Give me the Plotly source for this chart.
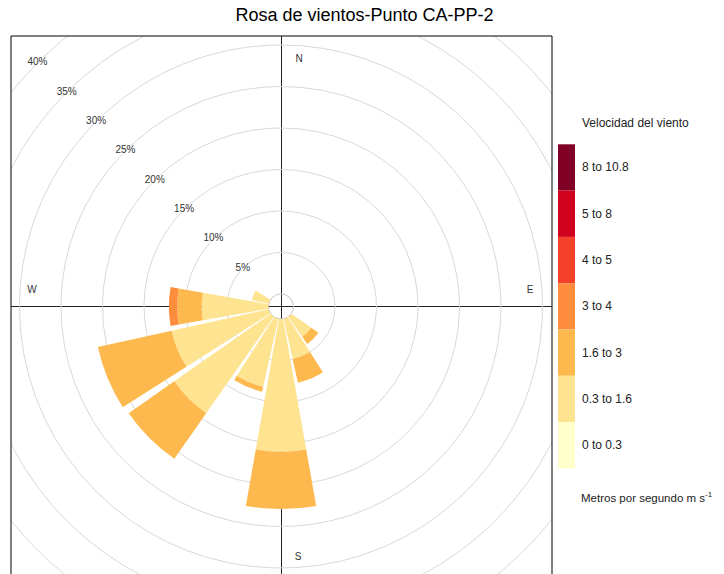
import numpy as np
import plotly.graph_objects as go

# ---------------- data ----------------
directions = [0, 22.5, 45, 67.5, 90, 112.5, 135, 157.5, 180, 202.5, 225, 247.5, 270, 292.5, 315, 337.5]
speed_bins = ["0 to 0.3", "0.3 to 1.6", "1.6 to 3", "3 to 4", "4 to 5", "5 to 8", "8 to 10.8"]
bin_colors = ["#FFFFCC", "#FEE391", "#FEB94E", "#FD8D3C", "#F4422A", "#D0021E", "#800026"]

freq_0_0p3   = [0, 0, 0, 0, 0, 0, 0, 0, 0, 0, 0, 0, 0, 0, 0, 0]
freq_0p3_1p6 = [0, 0, 0, 0, 0, 0, 2.95, 5.0, 16.0, 8.4, 14.2, 12.0, 8.05, 2.1, 0, 0]
freq_1p6_3   = [0, 0, 0, 0, 0, 0, 1.05, 2.9, 6.9, 0.6, 6.7, 9.1, 2.95, 0, 0, 0]
freq_3_4     = [0, 0, 0, 0, 0, 0, 0, 0, 0, 0, 0, 0, 1.0, 0, 0, 0]
freq_4_5     = [0, 0, 0, 0, 0, 0, 0, 0, 0, 0, 0, 0, 0, 0, 0, 0]
freq_5_8     = [0, 0, 0, 0, 0, 0, 0, 0, 0, 0, 0, 0, 0, 0, 0, 0]
freq_8_10p8  = [0, 0, 0, 0, 0, 0, 0, 0, 0, 0, 0, 0, 0, 0, 0, 0]
series = [freq_0_0p3, freq_0p3_1p6, freq_1p6_3, freq_3_4, freq_4_5, freq_5_8, freq_8_10p8]

ring_pcts = [5, 10, 15, 20, 25, 30, 35, 40]
ring_labels = ["5%", "10%", "15%", "20%", "25%", "30%", "35%", "40%"]
compass_labels = ["N", "E", "S", "W"]

title_text = "Rosa de vientos-Punto CA-PP-2"
legend_title = "Velocidad del viento"
legend_footer = "Metros por segundo m s<sup>-1</sup>"

# ---------------- geometry (figure pixels; page body adds an 8px offset) ----------------
OFF = 8
FIG_W, FIG_H = 724 - OFF, 574 - OFF
L, R_EDGE, T, B = 11 - OFF, 552 - OFF, 36 - OFF, 574 - OFF
W, H = R_EDGE - L, B - T
CX, CY = 281 - OFF, 306.5 - OFF
PX_PER_PCT = 8.3
HOLE_PX = 12.5
RPOL = min(CX - L, R_EDGE - CX, CY - T, B - CY)
FONT = "Liberation Sans, Arial, sans-serif"

def ring_px(p):
    return HOLE_PX + PX_PER_PCT * p

def px_x(px):
    return (px - OFF - L) / W

def px_y(py):
    return (B - (py - OFF)) / H

fig = go.Figure()

# grid rings (cartesian, clipped to the panel)
t = np.linspace(0, 2 * np.pi, 721)
for p in ring_pcts:
    rr = ring_px(p)
    fig.add_trace(go.Scatter(x=rr * np.sin(t), y=rr * np.cos(t), mode="lines",
                             line=dict(color="#D8D8D8", width=1), hoverinfo="skip",
                             showlegend=False))
# calm circle
fig.add_trace(go.Scatter(x=HOLE_PX * np.sin(t), y=HOLE_PX * np.cos(t), mode="lines",
                         line=dict(color="#C4C4C4", width=1), hoverinfo="skip", showlegend=False))

# ring labels along NW
lab_x = [-ring_px(p) * np.sin(np.pi / 4) for p in ring_pcts]
lab_y = [ring_px(p) * np.cos(np.pi / 4) for p in ring_pcts]
fig.add_trace(go.Scatter(x=lab_x, y=lab_y, mode="text", text=ring_labels,
                         textfont=dict(family=FONT, size=10, color="#333333"),
                         hoverinfo="skip", showlegend=False))

# compass labels
comp_x = [18, 249, 17, -249]
comp_y = [247.5, 16.5, -250.5, 16.5]
fig.add_trace(go.Scatter(x=comp_x, y=comp_y, mode="text", text=compass_labels,
                         textfont=dict(family=FONT, size=10, color="#333333"),
                         hoverinfo="skip", showlegend=False))

# wind rose bars
for name, vals, col in zip(speed_bins, series, bin_colors):
    fig.add_trace(go.Barpolar(r=vals, theta=directions, width=20, name=name,
                              marker=dict(color=col, line=dict(width=0)),
                              showlegend=False, subplot="polar"))

# legend (colour key), positions given in page pixels
shapes = []
annotations = []
box_top = 144.3
box_h = 46.3
for i, (name, col) in enumerate(zip(reversed(speed_bins), reversed(bin_colors))):
    y0 = box_top + i * box_h
    shapes.append(dict(type="rect", xref="paper", yref="paper",
                       x0=px_x(558), x1=px_x(575),
                       y0=px_y(y0 + box_h), y1=px_y(y0),
                       fillcolor=col, line=dict(width=0), layer="above"))
    annotations.append(dict(xref="paper", yref="paper", x=px_x(580),
                            y=px_y(y0 + box_h / 2), text=name, showarrow=False,
                            xanchor="left", yanchor="middle",
                            font=dict(family=FONT, size=12, color="#222222")))
annotations.append(dict(xref="paper", yref="paper", x=px_x(580), y=px_y(123),
                        text=legend_title, showarrow=False, xanchor="left", yanchor="middle",
                        font=dict(family=FONT, size=12, color="#222222")))
annotations.append(dict(xref="paper", yref="paper", x=px_x(579), y=px_y(497),
                        text=legend_footer, showarrow=False, xanchor="left", yanchor="middle",
                        font=dict(family=FONT, size=11.5, color="#222222")))

# panel frame (bottom edge falls outside the page)
shapes.append(dict(type="rect", xref="paper", yref="paper", x0=0, x1=1, y0=-0.1, y1=1,
                   line=dict(color="#000000", width=1), fillcolor="rgba(0,0,0,0)", layer="above"))

fig.update_layout(
    width=FIG_W, height=FIG_H,
    margin=dict(l=L, r=FIG_W - R_EDGE, t=T, b=FIG_H - B, pad=0),
    paper_bgcolor="white", plot_bgcolor="white",
    title=dict(text=title_text, x=(364.5 - OFF) / FIG_W, xref="container", xanchor="center",
               y=1, yanchor="top", pad=dict(t=0, b=0),
               font=dict(family=FONT, size=18, color="#000000")),
    xaxis=dict(range=[L - CX, R_EDGE - CX], showgrid=False, showticklabels=False,
               zeroline=True, zerolinecolor="#222222", zerolinewidth=1, showline=False,
               ticks="", fixedrange=True),
    yaxis=dict(range=[CY - B, CY - T], showgrid=False, showticklabels=False,
               zeroline=True, zerolinecolor="#222222", zerolinewidth=1, showline=False,
               ticks="", fixedrange=True),
    polar=dict(
        domain=dict(x=[(CX - RPOL - L) / W, (CX + RPOL - L) / W],
                    y=[(B - (CY + RPOL)) / H, (B - (CY - RPOL)) / H]),
        bgcolor="rgba(0,0,0,0)",
        hole=HOLE_PX / RPOL,
        barmode="stack",
        radialaxis=dict(range=[0, (RPOL - HOLE_PX) / PX_PER_PCT], visible=False,
                        showgrid=False, showline=False, showticklabels=False),
        angularaxis=dict(rotation=90, direction="clockwise", showgrid=False,
                         showline=False, showticklabels=False, ticks=""),
    ),
    shapes=shapes,
    annotations=annotations,
    showlegend=False,
)

fig.write_html("out.html")
